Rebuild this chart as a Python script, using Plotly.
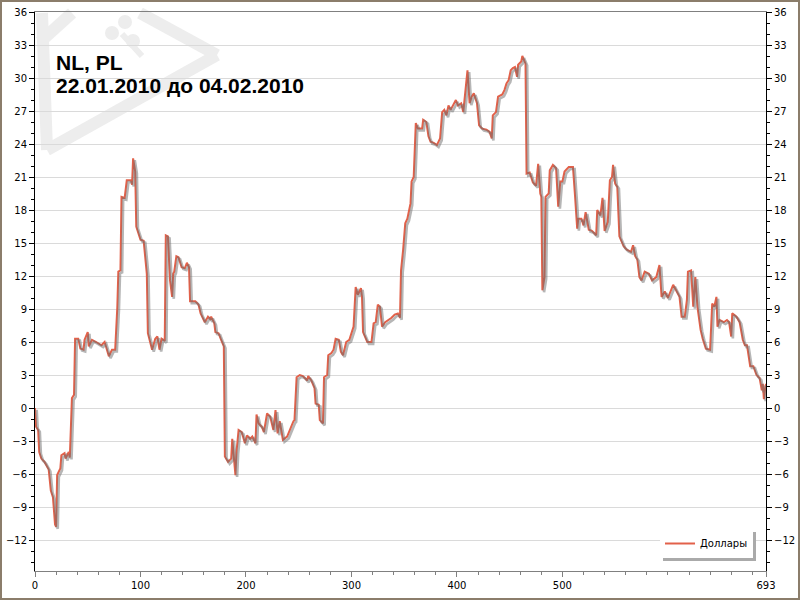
import plotly.graph_objects as go

# ---------------------------------------------------------------------------
# Data (trade index -> balance in dollars)
# ---------------------------------------------------------------------------

TITLE_1 = "NL, PL"
TITLE_2 = "22.01.2010 до 04.02.2010"
SERIES_NAME = "Доллары"

trade_idx = [
    0, 1, 3, 4, 6, 9, 13, 15, 17, 19, 20, 21, 24, 25, 28, 29, 32, 33, 35, 37,
    38, 41, 43, 46, 47, 50, 51, 54, 58, 63, 66, 70, 73, 76, 78, 79, 81, 82, 85, 87,
    91, 92, 93, 95, 96, 100, 103, 106, 107, 111, 114, 116, 118, 120, 123, 124, 126, 128, 130, 131,
    132, 134, 136, 139, 142, 144, 146, 147, 152, 155, 157, 161, 164, 166, 167, 170, 171, 174, 176, 179,
    180, 182, 183, 186, 187, 190, 191, 193, 196, 199, 201, 204, 206, 209, 210, 212, 215, 217, 220, 223,
    226, 228, 230, 232, 235, 239, 242, 245, 246, 248, 251, 254, 258, 259, 262, 265, 266, 269, 270, 273,
    274, 277, 278, 281, 283, 285, 288, 290, 292, 295, 298, 300, 302, 304, 306, 309, 310, 311, 315, 319,
    321, 323, 325, 327, 329, 332, 335, 338, 341, 344, 346, 347, 349, 351, 353, 355, 356, 357, 359, 361,
    363, 367, 368, 371, 373, 375, 378, 381, 384, 386, 388, 390, 392, 394, 397, 399, 401, 404, 406, 409,
    410, 412, 414, 416, 419, 421, 424, 428, 431, 433, 434, 437, 439, 443, 445, 447, 449, 451, 453, 455,
    457, 458, 461, 462, 465, 466, 469, 472, 475, 477, 479, 480, 481, 483, 484, 487, 488, 491, 494, 496,
    498, 500, 502, 506, 510, 512, 514, 515, 518, 520, 522, 525, 528, 532, 533, 536, 538, 540, 543, 545,
    547, 548, 550, 552, 554, 558, 561, 565, 567, 569, 571, 573, 575, 578, 582, 585, 589, 592, 594, 597,
    600, 605, 608, 611, 613, 616, 618, 619, 622, 624, 626, 628, 631, 633, 636, 640, 642, 644, 646, 647,
    649, 653, 656, 658, 660, 661, 665, 668, 671, 673, 675, 678, 681, 684, 687, 689, 690, 691, 692, 693,
]

dollars = [
    0.0, -1.7, -2.0, -4.0, -4.6, -4.9, -5.6, -7.5, -8.1, -10.6, -10.8, -6.1, -5.5, -4.3, -4.1, -4.6, -4.0, -4.5, 0.9, 1.2,
    6.3, 6.3, 5.4, 5.3, 6.2, 6.9, 5.6, 6.2, 6.0, 5.7, 6.0, 4.7, 5.3, 5.3, 9.1, 12.4, 12.5, 19.2, 19.1, 20.7,
    20.7, 20.3, 22.7, 21.5, 16.5, 15.3, 15.2, 12.2, 6.8, 5.3, 6.3, 6.5, 5.3, 6.3, 6.1, 15.7, 15.6, 11.6, 10.1, 12.2,
    12.4, 13.8, 13.7, 12.8, 12.7, 13.2, 12.8, 9.7, 9.7, 9.4, 8.6, 7.8, 8.3, 8.1, 8.3, 7.7, 6.9, 6.8, 6.3, 5.6,
    -4.4, -4.7, -4.9, -4.6, -2.8, -6.1, -4.0, -2.0, -2.2, -3.2, -2.5, -2.8, -2.6, -3.2, -0.6, -1.4, -1.7, -2.2, -0.5, -0.8,
    -2.0, -0.2, -2.3, -1.2, -2.9, -2.6, -1.8, -1.2, -1.1, 2.8, 3.0, 2.9, 2.5, 2.9, 2.5, 1.8, 0.4, 0.3, -1.1, -1.4,
    2.8, 3.0, 4.8, 5.0, 5.3, 6.3, 6.2, 5.1, 4.8, 6.0, 6.2, 6.9, 7.4, 11.0, 10.3, 10.9, 10.1, 6.9, 6.0, 6.0,
    7.7, 7.8, 9.4, 9.2, 7.4, 7.8, 8.0, 8.2, 8.5, 8.6, 8.2, 12.5, 14.4, 16.8, 17.2, 18.3, 18.6, 20.6, 21.0, 25.9,
    25.4, 25.4, 26.2, 26.0, 24.7, 24.2, 24.1, 23.9, 24.5, 26.9, 27.1, 26.6, 27.5, 27.1, 27.7, 28.0, 27.5, 27.7, 26.9, 29.5,
    30.7, 27.7, 28.3, 28.6, 27.7, 25.7, 25.4, 25.3, 25.1, 24.5, 26.6, 26.9, 28.3, 28.5, 28.9, 29.5, 29.8, 30.7, 30.9, 31.0,
    30.1, 31.2, 31.5, 32.0, 31.3, 21.3, 21.4, 20.5, 20.2, 22.2, 19.5, 19.2, 10.7, 11.9, 19.2, 19.5, 21.6, 22.1, 21.8, 18.3,
    20.6, 20.6, 21.5, 21.9, 21.9, 19.2, 16.3, 17.2, 17.2, 16.6, 17.8, 16.2, 16.1, 15.7, 18.0, 17.5, 19.1, 16.1, 16.9, 20.7,
    21.0, 22.1, 20.4, 20.1, 15.6, 14.7, 14.4, 14.2, 14.8, 13.8, 13.5, 11.9, 11.6, 12.4, 12.2, 11.6, 11.9, 13.0, 10.1, 10.6,
    10.0, 11.2, 10.7, 10.1, 8.3, 8.3, 9.8, 12.4, 12.5, 9.2, 11.9, 9.2, 7.1, 6.3, 5.4, 5.3, 9.5, 9.2, 10.1, 7.4,
    8.0, 7.8, 8.0, 7.8, 6.5, 8.6, 8.3, 7.8, 6.2, 5.7, 5.7, 3.8, 3.8, 3.0, 2.7, 1.6, 2.2, 0.8, 1.6, 2.2,
]

x_tickvals = [0, 100, 200, 300, 400, 500, 693]
y_tickvals = list(range(-12, 37, 3))

# ---------------------------------------------------------------------------
# Geometry helpers (pixel position in the 800x600 page -> paper coords)
# ---------------------------------------------------------------------------

L, R, T, B = 35, 34, 12, 29
PW, PH = 800 - L - R, 600 - T - B
Y_MIN = 36 - PH / 11


def px(p):
    return (p - L) / PW


def py(p):
    return (600 - B - p) / PH


RED = "#E2614A"
GRID = "#DADADA"
WM = "#EDEDED"

fig = go.Figure()

# ── soft drop shadow under the line (same data, nudged right/down) ──────
fig.add_trace(go.Scatter(
    x=[v + 1.6 for v in trade_idx],
    y=[v - 0.17 for v in dollars],
    mode="lines",
    line=dict(color="rgba(110,110,110,0.5)", width=2.6),
    hoverinfo="skip",
    showlegend=False,
    yaxis="y2",
))

# ── balance line ────────────────────────────────────────────────────────
fig.add_trace(go.Scatter(
    x=trade_idx,
    y=dollars,
    mode="lines",
    line=dict(color=RED, width=2),
    name=SERIES_NAME,
))

# ── watermark, frame ────────────────────────────────────────────────────
shapes = []
for (a, b), (c, d) in [((42, 13), (47, 150)), ((47, 150), (217, 55)),
                       ((140, 13), (217, 55)), ((40, 42), (72, 13))]:
    shapes.append(dict(type="line", xref="paper", yref="paper",
                       x0=px(a), y0=py(b), x1=px(c), y1=py(d),
                       line=dict(color=WM, width=12), layer="below"))
for cx, cy in [(112, 33), (125, 22), (133, 41)]:
    shapes.append(dict(type="circle", xref="paper", yref="paper",
                       x0=px(cx - 7), x1=px(cx + 7), y0=py(cy + 7), y1=py(cy - 7),
                       fillcolor=WM, line=dict(width=0), layer="below"))
shapes.append(dict(type="line", xref="paper", yref="paper",
                   x0=px(122), y0=py(34), x1=px(142), y1=py(56),
                   line=dict(color=WM, width=6), layer="below"))
shapes.append(dict(type="rect", xref="paper", yref="paper",
                   x0=px(1), x1=px(799), y0=py(599), y1=py(1),
                   line=dict(color="#8B7D6B", width=2)))

fig.add_annotation(x=px(54), y=py(62), xref="paper", yref="paper",
                   xanchor="left", yanchor="middle", showarrow=False,
                   text=f"<b>{TITLE_1}</b>",
                   font=dict(family="Liberation Sans", size=21, color="black"))
fig.add_annotation(x=px(54), y=py(85.5), xref="paper", yref="paper",
                   xanchor="left", yanchor="middle", showarrow=False,
                   text=f"<b>{TITLE_2}</b>",
                   font=dict(family="Liberation Sans", size=21, color="black"))

y_axis = dict(
    range=[Y_MIN, 36],
    tickmode="array", tickvals=y_tickvals,
    showgrid=True, gridcolor=GRID, gridwidth=1, zeroline=False,
    showline=True, linecolor="black", linewidth=1,
    ticks="outside", ticklen=5, tickcolor="black",
    minor=dict(tickmode="linear", tick0=0, dtick=1, ticks="outside",
               ticklen=3, tickcolor="black", showgrid=False),
    automargin=False,
)

fig.update_layout(
    width=800, height=600,
    margin=dict(l=L, r=R, t=T, b=B, autoexpand=False),
    paper_bgcolor="white", plot_bgcolor="white",
    font=dict(family="DejaVu Sans", size=10, color="black"),
    shapes=shapes,
    xaxis=dict(
        range=[0, 693],
        tickmode="array", tickvals=x_tickvals,
        showgrid=False, zeroline=False,
        showline=True, linecolor="#808080", linewidth=1, mirror=True,
        ticks="outside", ticklen=5, tickcolor="#808080",
        minor=dict(tickmode="linear", tick0=0, dtick=20, ticks="outside",
                   ticklen=3, tickcolor="#808080"),
        automargin=False,
    ),
    yaxis=y_axis,
    yaxis2=dict(y_axis, overlaying="y", side="right", anchor="x",
                showgrid=False),
    legend=dict(
        x=px(753), y=py(558), xanchor="right", yanchor="bottom",
        bgcolor="white", borderwidth=0,
        font=dict(family="DejaVu Sans", size=10),
    ),
    showlegend=True,
)

# body margin would push the 800x600 figure off the window;
# the legend box gets the flat grey drop shadow of the original
post = (
    "document.body.style.margin='0px';"
    "document.querySelectorAll('.legend .bg').forEach(function(r){"
    "r.style.filter='drop-shadow(3px 3px 0px #aaaaaa)';});"
)
fig.write_html("out.html", post_script=post,
               config=dict(displayModeBar=False))
